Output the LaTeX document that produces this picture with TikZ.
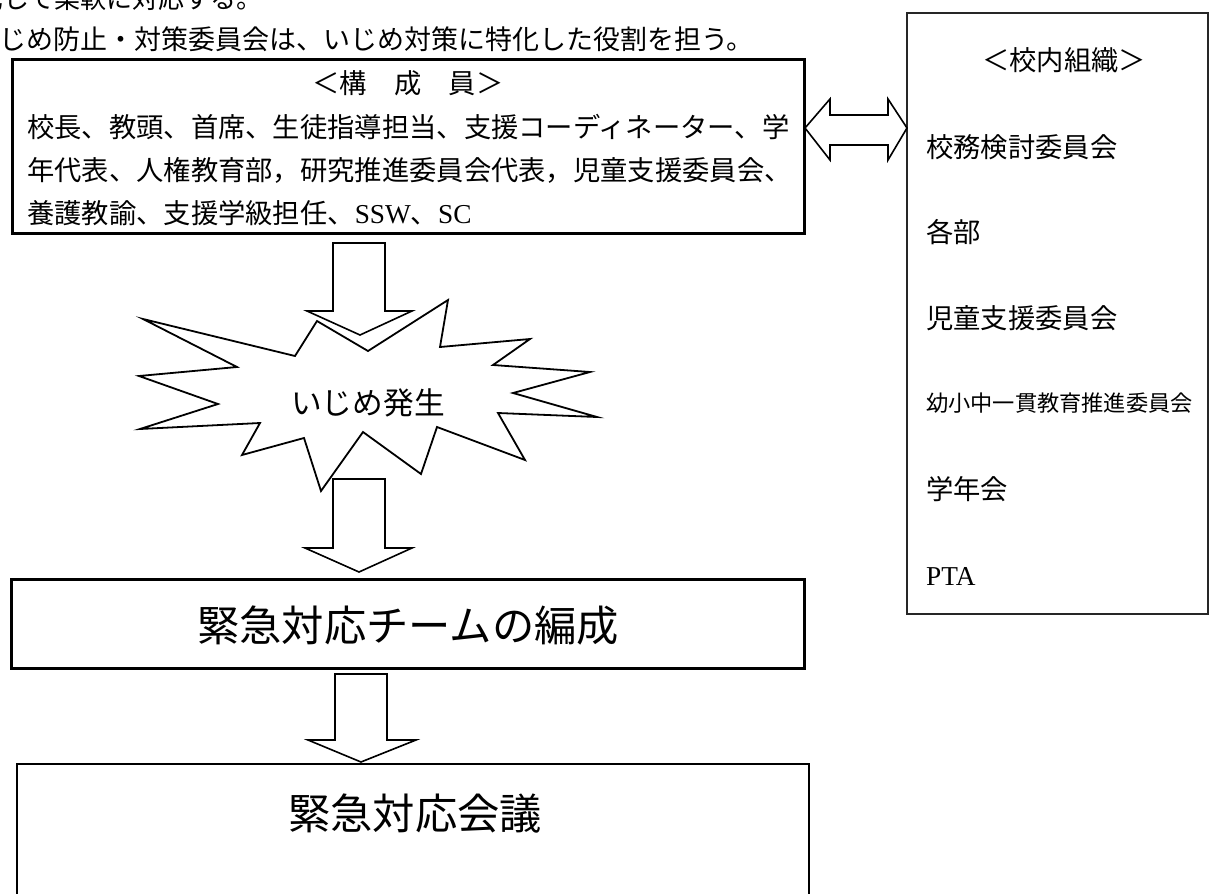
\documentclass[tikz,border=0pt]{standalone}
\usepackage{fontspec}
\setmainfont{Noto Sans CJK JP}
\newfontfamily\lat{Liberation Serif}
\begin{document}
\begin{tikzpicture}[x=1pt,y=-1pt,
  frame/.style={draw=black, line width=3pt, inner sep=0pt},
  thinframe/.style={draw=black!85, line width=2pt, inner sep=0pt},
  blockarrow/.style={draw=black, line width=1.6pt, line join=miter, fill=white},
  burst/.style={draw=black, line width=1.8pt, line join=miter, fill=white},
  txt/.style={inner sep=0pt, font=\fontsize{27.3}{32}\selectfont},
  smalltxt/.style={inner sep=0pt, font=\fontsize{22.2}{26}\selectfont},
  introtxt/.style={inner sep=0pt, font=\fontsize{27}{32}\selectfont},
  bursttxt/.style={inner sep=0pt, font=\fontsize{30.7}{36}\selectfont},
  bigtxt/.style={inner sep=0pt, font=\fontsize{42.3}{50}\selectfont}]
\useasboundingbox (0,0) rectangle (1210,894);

% intro lines (cut off by the page edge)
\node[introtxt, font=\fontsize{26}{30}\selectfont, anchor=base east] (intro1) at (263,9) {携して柔軟に対応する。};
\node[introtxt, anchor=base west] (intro2) at (-28,49) {いじめ防止・対策委員会は、いじめ対策に特化した役割を担う。};

% members box
\node[frame, minimum width=792pt, minimum height=174pt] (members) at (408,146) {};
\node[txt, anchor=base] (memhead) at (408,93.4) {＜構　成　員＞};
\node[txt, anchor=base west] (mem1) at (27,137.4) {校長、教頭、首席、生徒指導担当、支援コーディネーター、学};
\node[txt, anchor=base west] (mem2) at (27,180.4) {年代表、人権教育部，研究推進委員会代表，児童支援委員会、};
\node[txt, anchor=base west] (mem3) at (27,223.4) {養護教諭、支援学級担任、{\lat SSW}、{\lat SC}};

% school organisation box
\node[thinframe, minimum width=301pt, minimum height=601pt] (org) at (1057.5,313.5) {};
\node[txt, anchor=base] (orghead) at (1064,70.4) {＜校内組織＞};
\node[txt, anchor=base west] (org1) at (926,157.4) {校務検討委員会};
\node[txt, anchor=base west] (org2) at (926,242.4) {各部};
\node[txt, anchor=base west] (org3) at (926,328.4) {児童支援委員会};
\node[smalltxt, anchor=base west] (org4) at (926,411.4) {幼小中一貫教育推進委員会};
\node[txt, anchor=base west] (org5) at (926,499.4) {学年会};
\node[txt, anchor=base west] (org6) at (926,585.4) {{\lat PTA}};

% double arrow between boxes
\draw[blockarrow] (805,128) -- (830,99) -- (830,115) -- (888,115) -- (888,99) -- (907,128)
  -- (888,160) -- (888,145) -- (830,145) -- (830,160) -- cycle;

% explosion
\draw[burst] (143,319) -- (295,356) -- (317,321) -- (368,351) -- (448,300) -- (440,347)
  -- (530,339) -- (493,365) -- (590,372) -- (513,393) -- (597,417) -- (498,413)
  -- (525,460) -- (437,427) -- (421,474) -- (363,432) -- (321,491) -- (304,438)
  -- (242,455) -- (260,423) -- (140,429) -- (218,404) -- (139,376) -- (237,367) -- cycle;
\node[bursttxt, anchor=base] (ijime) at (368,414.7) {いじめ発生};

% block arrows
\draw[blockarrow] (333,243) -- (385,243) -- (385,311) -- (412,311) -- (360,335) -- (307,311) -- (333,311) -- cycle;
\draw[blockarrow] (333,479) -- (385,479) -- (385,548) -- (412,548) -- (359,572) -- (305,548) -- (333,548) -- cycle;
\draw[blockarrow] (335,674) -- (387,674) -- (387,740) -- (416,740) -- (361,762) -- (308,740) -- (335,740) -- cycle;

% team box
\node[frame, minimum width=793pt, minimum height=89pt] (team) at (407.5,623.5) {};
\node[bigtxt, anchor=base] (teamtxt) at (408,641) {緊急対応チームの編成};

% meeting box
\node[frame, line width=2.5pt, minimum width=792pt, minimum height=160pt] (meeting) at (413,844) {};
\node[bigtxt, anchor=base] (meetingtxt) at (415,829) {緊急対応会議};
\end{tikzpicture}
\end{document}
